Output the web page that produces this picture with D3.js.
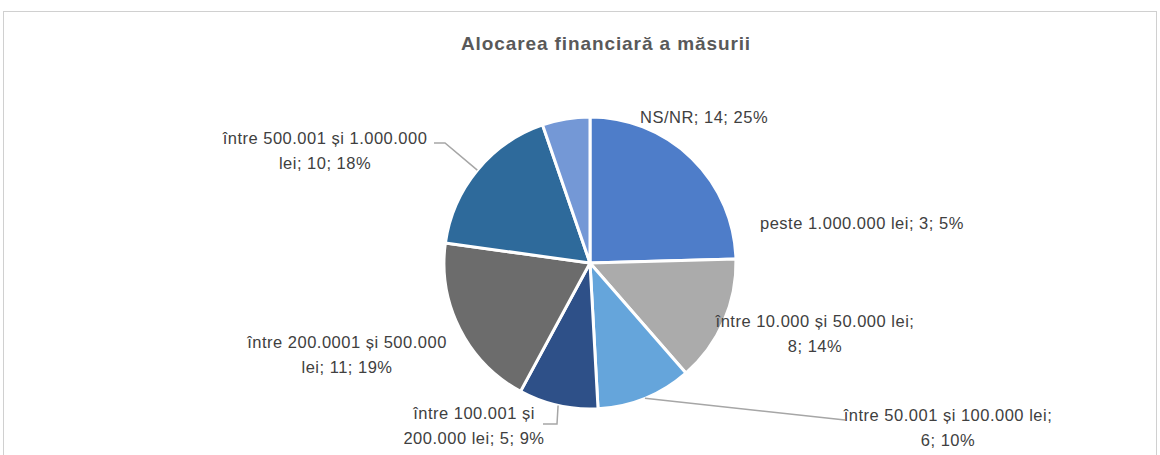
<!DOCTYPE html>
<html><head><meta charset="utf-8">
<script src="https://cdn.jsdelivr.net/npm/d3@7"></script>
<style>
html,body{margin:0;padding:0;background:#fff;}
svg{display:block;}
text{font-family:"Liberation Sans",Arial,sans-serif;}
</style></head>
<body>
<svg id="chart" width="1160" height="455"></svg>
<script>
const title = "Alocarea financiară a măsurii";
const categories = ["NS/NR","între 10.000 și 50.000 lei","între 50.001 și 100.000 lei","între 100.001 și 200.000 lei","între 200.0001 și 500.000 lei","între 500.001 și 1.000.000 lei","peste 1.000.000 lei"];
const values = [14, 8, 6, 5, 11, 10, 3];
const percents = ["25%","14%","10%","9%","19%","18%","5%"];
const colors = ["#4E7DC9","#ABABAB","#65A5DB","#2E5088","#6C6C6C","#2E6A9B","#7498D6"];

// layout (positions only)
const cx = 590, cy = 263, R = 146;
const labelLayout = [
  {lines:["NS/NR; 14; 25%"], x:640, y:123, anchor:"start", leader:null},
  {lines:["între 10.000 și 50.000 lei;","8; 14%"], x:815, y:327, anchor:"middle", leader:null},
  {lines:["între 50.001 și 100.000 lei;","6; 10%"], x:948, y:421, anchor:"middle", leader:{elbow:[845,420], end:[845,420]}},
  {lines:["între 100.001 și","200.000 lei; 5; 9%"], x:474, y:419, anchor:"middle", leader:{elbow:[557,424], end:[543,424]}},
  {lines:["între 200.0001 și 500.000","lei; 11; 19%"], x:347, y:348, anchor:"middle", leader:null},
  {lines:["între 500.001 și 1.000.000","lei; 10; 18%"], x:325, y:144, anchor:"middle", leader:{elbow:[445,143], end:[434,143]}},
  {lines:["peste 1.000.000 lei; 3; 5%"], x:760, y:229, anchor:"start", leader:null}
];

const svg = d3.select("#chart");
svg.append("rect").attr("x",3.5).attr("y",11.5).attr("width",1153).attr("height",460)
  .attr("fill","#fff").attr("stroke","#D0D0D0").attr("stroke-width",1);

svg.append("text").attr("x",606).attr("y",50).attr("text-anchor","middle")
  .attr("font-size",19).attr("font-weight","bold").attr("letter-spacing",0.9)
  .attr("fill","#595959").text(title);

const data = categories.map((c,i)=>({cat:c, value:values[i], pct:percents[i], color:colors[i], layout:labelLayout[i]}));
const pie = d3.pie().sort(null).value(d=>d.value);
const arcs = pie(data);
const arc = d3.arc().innerRadius(0).outerRadius(R);

const g = svg.append("g").attr("transform",`translate(${cx},${cy})`);
g.selectAll("path").data(arcs).join("path")
  .attr("d",arc).attr("fill",d=>d.data.color)
  .attr("stroke","#fff").attr("stroke-width",3).attr("stroke-linejoin","round");

arcs.forEach(a=>{
  const L = a.data.layout.leader;
  if(!L) return;
  const mid = (a.startAngle+a.endAngle)/2;
  const sx = cx + Math.sin(mid)*R, sy = cy - Math.cos(mid)*R;
  svg.append("polyline")
    .attr("points",[[sx,sy],L.elbow,L.end].map(p=>p.join(",")).join(" "))
    .attr("fill","none").attr("stroke","#A6A6A6").attr("stroke-width",1.5);
});

arcs.forEach(a=>{
  const L = a.data.layout;
  const t = svg.append("text").attr("x",L.x).attr("y",L.y).attr("text-anchor",L.anchor)
    .attr("font-size",16.5).attr("letter-spacing",0.5).attr("fill","#404040");
  L.lines.forEach((ln,i)=>{
    t.append("tspan").attr("x",L.x).attr("dy", i===0?0:25).text(ln);
  });
});
</script>
</body></html>
